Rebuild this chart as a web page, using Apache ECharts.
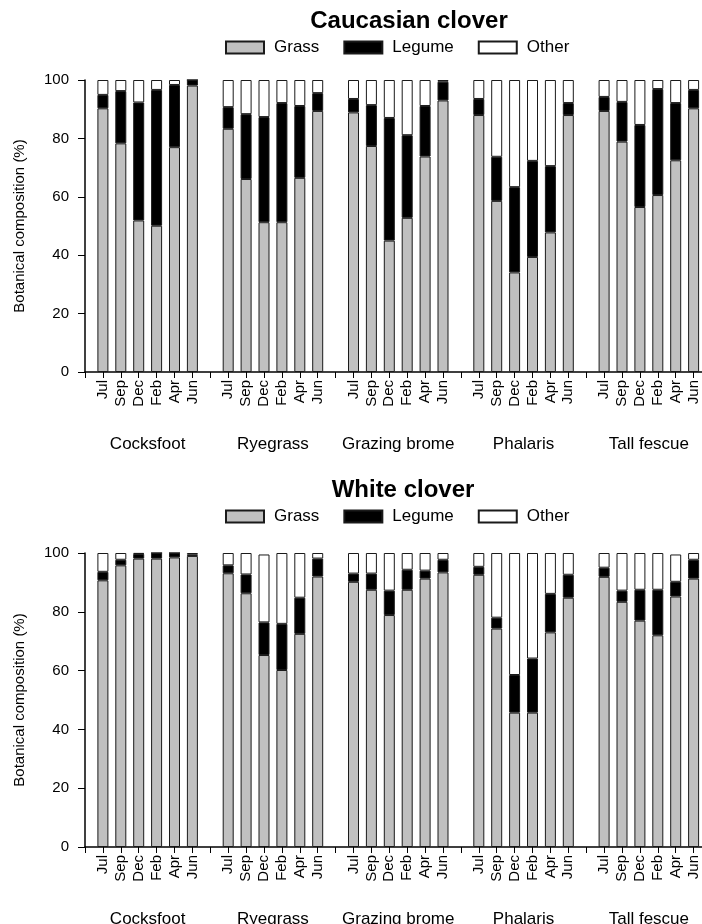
<!DOCTYPE html>
<html>
<head>
<meta charset="utf-8">
<script src="https://cdn.jsdelivr.net/npm/echarts@6/dist/echarts.min.js"></script>
<style>
html,body{margin:0;padding:0;background:#fff;}
#c{width:702px;height:924px;}
</style>
</head>
<body>
<div id="c"></div>
<script>
// ---- data ----
var months = ['Jul', 'Sep', 'Dec', 'Feb', 'Apr', 'Jun'];
var grasses = ['Cocksfoot', 'Ryegrass', 'Grazing brome', 'Phalaris', 'Tall fescue'];
var yTicks = [0, 20, 40, 60, 80, 100];

// Caucasian clover (top panel), per grass: Jul..Jun
var ccGrass = [
  [90.3, 78.3, 51.9, 50.1, 77.0, 98.1],
  [83.3, 66.1, 51.3, 51.3, 66.5, 89.4],
  [88.9, 77.4, 45.0, 52.8, 73.8, 93.0],
  [88.0, 58.6, 34.1, 39.4, 47.8, 88.0],
  [89.4, 78.9, 56.5, 60.6, 72.5, 90.3]
];
var ccLegume = [
  [4.6, 17.9, 40.4, 46.5, 21.3, 1.9],
  [7.4, 22.2, 36.0, 40.8, 24.6, 6.1],
  [4.6, 14.0, 42.0, 28.3, 17.3, 6.4],
  [5.5, 15.1, 29.2, 32.9, 22.7, 4.1],
  [4.8, 13.6, 28.1, 36.3, 19.6, 6.3]
];
var ccOther = [
  [5.1, 3.8, 7.7, 3.4, 1.7, 0.0],
  [9.3, 11.7, 12.7, 7.9, 8.9, 4.5],
  [6.5, 8.6, 13.0, 18.9, 8.9, 0.6],
  [6.5, 26.3, 36.7, 27.7, 29.5, 7.9],
  [5.8, 7.5, 15.4, 3.1, 7.9, 3.4]
];

// White clover (bottom panel)
var wcGrass = [
  [90.7, 95.8, 98.1, 98.1, 98.5, 99.0],
  [93.1, 86.3, 65.3, 60.2, 72.5, 92.0],
  [90.2, 87.5, 78.9, 87.5, 91.3, 93.4],
  [92.6, 74.3, 45.7, 45.7, 73.0, 84.8],
  [91.9, 83.4, 77.0, 72.0, 85.2, 91.3]
];
var wcLegume = [
  [2.9, 1.9, 1.6, 1.9, 1.5, 0.4],
  [2.7, 6.4, 11.1, 15.7, 12.3, 6.1],
  [2.8, 5.5, 8.3, 6.8, 2.7, 4.3],
  [2.7, 3.7, 12.8, 18.4, 13.1, 7.8],
  [3.1, 3.8, 10.5, 15.5, 5.0, 6.4]
];
var wcOther = [
  [6.4, 2.3, 0.3, 0.0, 0.0, 0.6],
  [4.2, 7.3, 23.1, 24.1, 15.2, 1.9],
  [7.0, 7.0, 12.8, 5.7, 6.0, 2.3],
  [4.7, 22.0, 41.5, 35.9, 13.9, 7.4],
  [5.0, 12.8, 12.5, 12.5, 9.3, 2.3]
];

// ---- build category slots: blank, 6 months, blank, 6 months, ... blank ----
var cats = [''];
grasses.forEach(function () {
  months.forEach(function (m) { cats.push(m); });
  cats.push('');
});
// half-step categories for grass group names (centred under each group)
var groupCats = [];
for (var i = 0; i < cats.length * 2 - 1; i++) { groupCats.push(''); }
grasses.forEach(function (g, k) {
  var centre = k * (months.length + 1) + (months.length + 1) / 2; // in slot units
  groupCats[Math.round(centre * 2)] = g;
});

function toData(arr) {
  var out = [null];
  arr.forEach(function (row) {
    row.forEach(function (v) { out.push(v); });
    out.push(null);
  });
  return out;
}
var FONT = '"Liberation Sans", Arial, Helvetica, sans-serif';
var colors = {Grass: '#c0c0c0', Legume: '#000000', Other: '#ffffff'};

var grids = [
  {left: 85, width: 626.5, top: 80, height: 292, containLabel: false, outerBoundsMode: 'none'},
  {left: 85, width: 626.5, top: 553, height: 294, containLabel: false, outerBoundsMode: 'none'}
];

var xAxes = [], yAxes = [], series = [];
[0, 1].forEach(function (gi) {
  xAxes.push({
    type: 'category', gridIndex: gi, data: cats, boundaryGap: false,
    axisLine: {show: true, onZero: false, lineStyle: {color: '#000', width: 1.5}},
    axisTick: {show: true, inside: false, length: 6, interval: 0, lineStyle: {color: '#000', width: 1}},
    splitLine: {show: false},
    axisLabel: {rotate: 90, margin: 8, fontSize: 15, color: '#000', fontFamily: FONT, interval: 0}
  });
  xAxes.push({
    type: 'category', gridIndex: gi, data: groupCats, boundaryGap: false, position: 'bottom',
    axisLine: {show: false}, axisTick: {show: false}, splitLine: {show: false},
    axisLabel: {margin: 64, fontSize: 17, color: '#000', fontFamily: FONT, interval: 0}
  });
  yAxes.push({
    type: 'value', gridIndex: gi, min: yTicks[0], max: yTicks[yTicks.length - 1], interval: 20,
    name: 'Botanical composition (%)', nameLocation: 'middle', nameGap: 58,
    nameTextStyle: {fontSize: 15, color: '#000', fontFamily: FONT},
    axisLine: {show: true, lineStyle: {color: '#000', width: 1.5}},
    axisTick: {show: true, inside: false, length: 7, lineStyle: {color: '#000', width: 1}},
    splitLine: {show: false},
    axisLabel: {margin: 16, fontSize: 15, color: '#000', fontFamily: FONT}
  });
});

var panels = [
  {g: ccGrass, l: ccLegume, o: ccOther},
  {g: wcGrass, l: wcLegume, o: wcOther}
];
panels.forEach(function (p, gi) {
  [['Grass', p.g], ['Legume', p.l], ['Other', p.o]].forEach(function (s) {
    series.push({
      name: s[0], type: 'bar', stack: 'panel' + gi,
      xAxisIndex: gi * 2, yAxisIndex: gi,
      barWidth: 11,
      itemStyle: {color: colors[s[0]], borderColor: '#1a1a1a', borderWidth: 1},
      data: toData(s[1]),
      animation: false
    });
  });
});

var legendBase = {
  data: ['Grass', 'Legume', 'Other'], icon: 'rect', itemWidth: 38, itemHeight: 12, itemGap: 24,
  textStyle: {fontSize: 17, color: '#000', fontFamily: FONT, padding: [0, 0, 0, 5]}, selectedMode: false
};
var option = {
  backgroundColor: '#fff',
  animation: false,
  title: [
    {text: 'Caucasian clover', left: 404, top: 4, textAlign: 'center',
     textStyle: {fontSize: 24, fontWeight: 'bold', color: '#000', fontFamily: FONT}},
    {text: 'White clover', left: 398, top: 473, textAlign: 'center',
     textStyle: {fontSize: 24, fontWeight: 'bold', color: '#000', fontFamily: FONT}}
  ],
  legend: [
    Object.assign({left: 220, top: 34}, legendBase),
    Object.assign({left: 220, top: 503}, legendBase)
  ],
  grid: grids,
  xAxis: xAxes,
  yAxis: yAxes,
  series: series
};
var chart = echarts.init(document.getElementById('c'), null, {renderer: 'canvas'});
chart.setOption(option);
</script>
</body>
</html>
